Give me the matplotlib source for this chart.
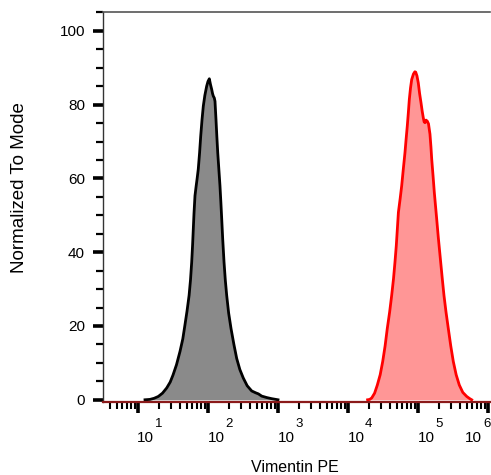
import numpy as np
import matplotlib
matplotlib.use("Agg")
import matplotlib.pyplot as plt
from matplotlib.ticker import MultipleLocator, LogLocator, NullFormatter
from matplotlib.transforms import offset_copy

plt.rcParams['font.family'] = ['Liberation Sans', 'DejaVu Sans']

# ---- data (log10 of fluorescence intensity, normalized to mode %) ----
gray_log10 = [1.10, 1.17, 1.23, 1.29, 1.35, 1.41, 1.46, 1.50, 1.55, 1.60, 1.64,
              1.67, 1.70, 1.73, 1.75, 1.767, 1.78, 1.79, 1.80, 1.814, 1.83,
              1.845, 1.861, 1.88, 1.896, 1.915, 1.933, 1.955, 1.981, 2.00, 2.019,
              2.035, 2.053, 2.065, 2.076, 2.09, 2.10, 2.114, 2.126, 2.139, 2.155,
              2.171, 2.184, 2.196, 2.21, 2.229, 2.247, 2.267, 2.295, 2.329, 2.37,
              2.41, 2.455, 2.504, 2.56, 2.624, 2.68, 2.72, 2.767, 2.84, 2.91,
              2.97, 3.0]
gray_vals = [0.0, 0.1, 0.4, 0.9, 1.8, 3.2, 4.8, 6.7, 9.5, 13.1, 16.5,
             20.2, 24.0, 28.3, 32.5, 37.3, 42.0, 46.3, 50.5, 55.3, 57.8,
             60.0, 62.5, 67.0, 71.5, 76.0, 79.6, 82.5, 85.0, 86.3, 87.0,
             85.5, 84.1, 83.0, 82.3, 81.8, 80.9, 76.0, 71.5, 67.0, 62.5,
             58.0, 53.5, 49.0, 43.6, 37.3, 32.5, 28.3, 23.5, 19.3, 15.0,
             11.2, 8.2, 5.9, 3.8, 2.4, 1.9, 1.6, 1.0, 0.6, 0.3,
             0.1, 0.0]

red_log10 = [4.28, 4.31, 4.339, 4.38, 4.419, 4.46, 4.496, 4.53, 4.561, 4.595,
             4.624, 4.65, 4.671, 4.69, 4.705, 4.72, 4.745, 4.767, 4.79, 4.814,
             4.83, 4.847, 4.862, 4.876, 4.893, 4.91, 4.935, 4.955, 4.967, 4.985,
             5.004, 5.023, 5.043, 5.06, 5.076, 5.088, 5.10, 5.115, 5.133, 5.15,
             5.171, 5.185, 5.196, 5.215, 5.233, 5.25, 5.267, 5.29, 5.324, 5.347,
             5.371, 5.40, 5.433, 5.468, 5.504, 5.545, 5.59, 5.64, 5.696, 5.74,
             5.767]
red_vals = [0.0, 0.1, 0.5, 1.8, 4.0, 6.8, 10.4, 14.6, 19.3, 23.8,
            28.3, 32.8, 37.3, 41.8, 46.3, 50.8, 54.5, 58.0, 62.5, 67.0,
            70.6, 74.2, 77.8, 81.4, 84.5, 86.8, 88.3, 88.9, 88.8, 87.8,
            85.9, 83.0, 80.5, 78.2, 76.4, 75.3, 75.1, 75.8, 75.5, 74.8,
            72.0, 68.5, 65.2, 60.7, 56.2, 52.6, 49.0, 44.0, 37.3, 32.8,
            28.3, 23.8, 19.3, 14.6, 10.4, 6.8, 4.0, 2.0, 0.9, 0.3,
            0.0]

decades = [1, 2, 3, 4, 5, 6]
y_ticks = [0, 20, 40, 60, 80, 100]

W, H = 491, 475
fig = plt.figure(figsize=(W / 100, H / 100), dpi=100)
ax = fig.add_axes([103 / W, 1 - 402 / H, (490 - 103) / W, (402 - 12) / H])

gx = 10 ** np.array(gray_log10)
rx = 10 ** np.array(red_log10)
ax.fill_between(gx, 0, gray_vals, color='#8a8a8a', lw=0, zorder=2)
ax.plot(gx, gray_vals, color='black', lw=2, zorder=3, solid_joinstyle='round')
ax.fill_between(rx, 0, red_vals, color='#ff9696', lw=0, zorder=2)
ax.plot(rx, red_vals, color='#ff0000', lw=2, zorder=3, solid_joinstyle='round')

ax.set_xscale('log')
ax.set_xlim(10 ** 0.5, 10 ** (6 + 2 / 70))
ax.set_ylim(-0.6, 105.1)

# spines
ax.spines['right'].set_visible(False)
ax.spines['top'].set_color('#555555')
ax.spines['top'].set_linewidth(1.2)
ax.spines['left'].set_color('#333333')
ax.spines['left'].set_linewidth(1.0)
ax.spines['bottom'].set_color('#8b1a1a')
ax.spines['bottom'].set_linewidth(1.6)
ax.spines['bottom'].set_zorder(4)

# y ticks
ax.set_yticks(y_ticks)
ax.yaxis.set_minor_locator(MultipleLocator(5))
ax.tick_params(axis='y', which='major', direction='out', length=7, width=2.6,
               labelsize=11, pad=6, color='black')
ax.tick_params(axis='y', which='minor', direction='out', length=5, width=1.6,
               color='black')

# x ticks
ax.xaxis.set_major_locator(LogLocator(base=10, numticks=20))
ax.xaxis.set_minor_locator(LogLocator(base=10, subs=np.arange(2, 10), numticks=20))
ax.xaxis.set_major_formatter(NullFormatter())
ax.xaxis.set_minor_formatter(NullFormatter())
ax.tick_params(axis='x', which='major', direction='out', length=8, width=2.6, color='black')
ax.tick_params(axis='x', which='minor', direction='out', length=5, width=1.5, color='black')

# custom decade labels "10" with exponent
xt = ax.get_xaxis_transform()
for d in decades:
    if d == 1:
        dx_base, dx_exp = -1, 17
    elif d == 6:
        dx_base, dx_exp = -23, -5
    else:
        dx_base, dx_exp = 0, 17
    tb = offset_copy(xt, fig=fig, x=dx_base, y=-40, units='dots')
    te = offset_copy(xt, fig=fig, x=dx_exp, y=-25, units='dots')
    ax.text(10 ** d, 0, '10', transform=tb, ha='left', va='baseline', fontsize=11)
    ax.text(10 ** d, 0, str(d), transform=te, ha='left', va='baseline', fontsize=9.5)

fig.text(295 / W, 1 - 467 / H, 'Vimentin PE', ha='center', va='center', fontsize=11.5)
fig.text(20 / W, 1 - 188 / H, 'Normalized To Mode', ha='center', va='center',
         rotation=90, fontsize=13.5)

fig.savefig('out.png', dpi=100)
